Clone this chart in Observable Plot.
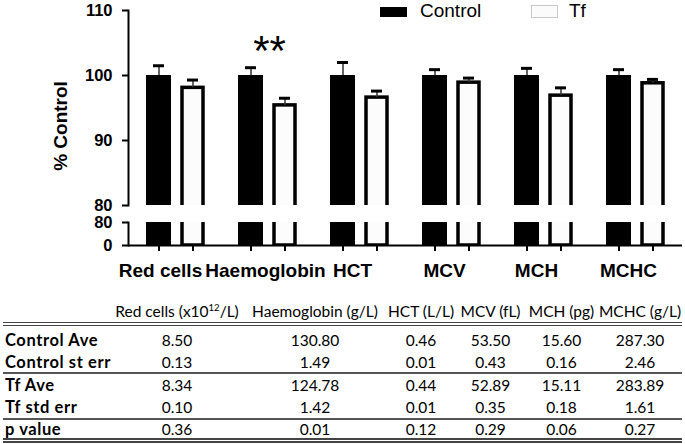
<!DOCTYPE html>
<html>
<head>
<meta charset="utf-8">
<script src="https://cdn.jsdelivr.net/npm/d3@7"></script>
<script src="https://cdn.jsdelivr.net/npm/@observablehq/plot@0.6"></script>
<style>
  body { margin: 0; background: #fff; }
  #wrap { position: relative; width: 685px; height: 444px; overflow: hidden; font-family: "Liberation Sans", Arial, sans-serif; color: #000; }
  #topChart, #bottomChart { position: absolute; left: 0; }
  #topChart { top: 0; }
  #bottomChart { top: 212px; }
  .lg { position: absolute; }
  .lgText { font-size: 19px; line-height: 19px; white-space: nowrap; }
  #tbl { position: absolute; left: 3px; top: 300px; border-collapse: collapse; table-layout: fixed; width: 679px;
         font-family: Lato, "Open Sans", sans-serif; font-size: 15.5px; color: #000; }
  #tbl td, #tbl th { padding: 0; white-space: nowrap; text-align: center; line-height: 20px; font-weight: normal; }
  #tbl th { height: 22px; line-height: 22px; }
  #tbl td.rl { text-align: left; padding-left: 2px; font-weight: bold; font-size: 16.5px; letter-spacing: 0.6px; }
  #tbl tr.hdr th { border-bottom: 4px double #444; }
  #tbl tr.r0 td { padding-top: 4px; padding-bottom: 0; }
  #tbl tr.r1 td { padding-top: 2px; padding-bottom: 0; border-bottom: 2px solid #555; }
  #tbl tr.r2 td { padding-top: 1px; padding-bottom: 1px; }
  #tbl tr.r3 td { padding-top: 1px; padding-bottom: 1px; border-bottom: 2px solid #555; }
  #tbl tr.r4 td { padding-top: 0; padding-bottom: 0; line-height: 18px; border-bottom: 5px double #444; }
  #tbl sup { font-size: 9.5px; line-height: 0; vertical-align: 6px; }
</style>
</head>
<body>
<div id="wrap">
  <div id="topChart"></div>
  <div id="bottomChart"></div>
  <div class="lg" style="left:380px;top:7px;width:27px;height:10px;background:#000"></div>
  <div class="lg lgText" style="left:420px;top:1px">Control</div>
  <div class="lg" style="left:531px;top:5px;width:25px;height:11px;border:1px solid #c8c8c8;background:#fbfbfb"></div>
  <div class="lg lgText" style="left:569px;top:1px">Tf</div>
  <table id="tbl"></table>
</div>
<script>
// ---- chart data (% of control) ----
const categories = ["Red cells", "Haemoglobin", "HCT", "MCV", "MCH", "MCHC"];
const controlPct = [100, 100, 100, 100, 100, 100];
const controlErr = [1.5, 1.2, 2.0, 0.9, 1.1, 0.9];
const tfPct      = [98.1, 95.4, 96.6, 98.9, 96.9, 98.8];
const tfErr      = [1.2, 1.1, 1.0, 0.7, 1.2, 0.6];
const sigMarks   = ["", "**", "", "", "", ""];
const upperTicks = [80, 90, 100, 110];
const lowerTicks = [0, 80];
const yLabel = "% Control";

// ---- table data ----
const tableHeaders = ["Red cells (x10^12/L)", "Haemoglobin (g/L)", "HCT (L/L)", "MCV (fL)", "MCH (pg)", "MCHC (g/L)"];
const rowLabels = ["Control Ave", "Control st err", "Tf Ave", "Tf std err", "p value"];
const controlAve = ["8.50", "130.80", "0.46", "53.50", "15.60", "287.30"];
const controlSe  = ["0.13", "1.49", "0.01", "0.43", "0.16", "2.46"];
const tfAve      = ["8.34", "124.78", "0.44", "52.89", "15.11", "283.89"];
const tfSe       = ["0.10", "1.42", "0.01", "0.35", "0.18", "1.61"];
const pValues    = ["0.36", "0.01", "0.12", "0.29", "0.06", "0.27"];

const rows = categories.map((c, i) => ({
  category: c, control: controlPct[i], controlErr: controlErr[i],
  tf: tfPct[i], tfErr: tfErr[i], sig: sigMarks[i]
}));

const font = "Liberation Sans, Arial, sans-serif";
const xScale = {type: "band", domain: categories, paddingInner: 0.371, paddingOuter: 0.19, axis: null};
const ctrlDx = -16.5, tfDx = 17.5;

function barMarks() {
  return [
    Plot.barY(rows, {x: "category", y: "control", fill: "#000", insetLeft: 0, insetRight: 33, clip: true}),
    Plot.barY(rows, {x: "category", y: "tf", fill: "#fcfcfc", stroke: "#000", strokeWidth: 3.5, insetLeft: 36, insetRight: 1, clip: true})
  ];
}

const topPlot = Plot.plot({
  width: 685, height: 207, marginLeft: 128, marginRight: 3, marginTop: 10, marginBottom: 2,
  x: xScale,
  y: {domain: [80, 110], axis: null},
  style: {fontFamily: font, background: "transparent", overflow: "visible", color: "#000"},
  marks: [
    ...barMarks(),
    Plot.ruleX(rows, {x: "category", y1: "control", y2: d => d.control + d.controlErr, dx: ctrlDx, stroke: "#333", strokeWidth: 1.5}),
    Plot.tickY(rows, {x: "category", y: d => d.control + d.controlErr, dx: ctrlDx, insetLeft: 23.5, insetRight: 23.5, stroke: "#000", strokeWidth: 3}),
    Plot.ruleX(rows, {x: "category", y1: "tf", y2: d => d.tf + d.tfErr, dx: tfDx, stroke: "#333", strokeWidth: 1.5}),
    Plot.tickY(rows, {x: "category", y: d => d.tf + d.tfErr, dx: tfDx, insetLeft: 23.5, insetRight: 23.5, stroke: "#000", strokeWidth: 3}),
    Plot.text(rows, {x: "category", text: "sig", frameAnchor: "top", lineAnchor: "bottom", dy: 54, dx: 2, fontSize: 42, fontFamily: font, fill: "#000"}),
    Plot.axisY({ticks: upperTicks, tickSize: 6, tickPadding: 10, strokeWidth: 2, fontSize: 16.5, fontWeight: "bold", label: null, tickFormat: d => String(d)}),
    Plot.frame({anchor: "left", strokeWidth: 2}),
    Plot.text([yLabel], {frameAnchor: "left", textAnchor: "middle", rotate: -90, dx: -68, dy: 18, fontSize: 19, fontWeight: "bold", fontFamily: font, fill: "#000"})
  ]
});
document.getElementById("topChart").appendChild(topPlot);

const bottomPlot = Plot.plot({
  width: 685, height: 73, marginLeft: 128, marginRight: 3, marginTop: 10, marginBottom: 40,
  x: xScale,
  y: {domain: [0, 80], axis: null},
  style: {fontFamily: font, background: "transparent", overflow: "visible", color: "#000"},
  marks: [
    ...barMarks(),
    Plot.ruleY([0], {strokeWidth: 2}),
    Plot.ruleX(rows, {x: "category", y1: 0, y2: 0, insetBottom: -6, dx: ctrlDx, strokeWidth: 2}),
    Plot.ruleX(rows, {x: "category", y1: 0, y2: 0, insetBottom: -6, dx: tfDx, strokeWidth: 2}),
    Plot.axisY({ticks: lowerTicks, tickSize: 6, tickPadding: 10, strokeWidth: 2, fontSize: 16.5, fontWeight: "bold", label: null, tickFormat: d => String(d)}),
    Plot.frame({anchor: "left", strokeWidth: 2}),
    Plot.axisX(categories.slice(0, 1), {tickSize: 0, tickPadding: 18, dx: -15, fontSize: 19, fontWeight: "bold", label: null}),
    Plot.axisX(categories.slice(1, 2), {tickSize: 0, tickPadding: 18, dx: -2, fontSize: 19, fontWeight: "bold", label: null}),
    Plot.axisX(categories.slice(2), {tickSize: 0, tickPadding: 18, dx: -7, fontSize: 19, fontWeight: "bold", label: null})
  ]
});
document.getElementById("bottomChart").appendChild(bottomPlot);

// ---- table ----
const tbl = document.getElementById("tbl");
const colWidths = [107, 134, 142, 70, 69, 73, 84];
const cg = document.createElement("colgroup");
colWidths.forEach(w => { const c = document.createElement("col"); c.style.width = w + "px"; cg.appendChild(c); });
tbl.appendChild(cg);
const hr = document.createElement("tr"); hr.className = "hdr";
hr.appendChild(document.createElement("th"));
tableHeaders.forEach(h => {
  const th = document.createElement("th");
  const m = h.match(/^(.*?)\^(\d+)(.*)$/);
  if (m) { th.append(m[1]); const s = document.createElement("sup"); s.textContent = m[2]; th.append(s); th.append(m[3]); }
  else th.textContent = h;
  hr.appendChild(th);
});
tbl.appendChild(hr);
const bodyRows = [controlAve, controlSe, tfAve, tfSe, pValues];
bodyRows.forEach((vals, r) => {
  const tr = document.createElement("tr");
  tr.className = "r" + r;
  const l = document.createElement("td"); l.className = "rl"; l.textContent = rowLabels[r]; tr.appendChild(l);
  vals.forEach(v => { const td = document.createElement("td"); td.textContent = v; tr.appendChild(td); });
  tbl.appendChild(tr);
});
</script>
</body>
</html>
